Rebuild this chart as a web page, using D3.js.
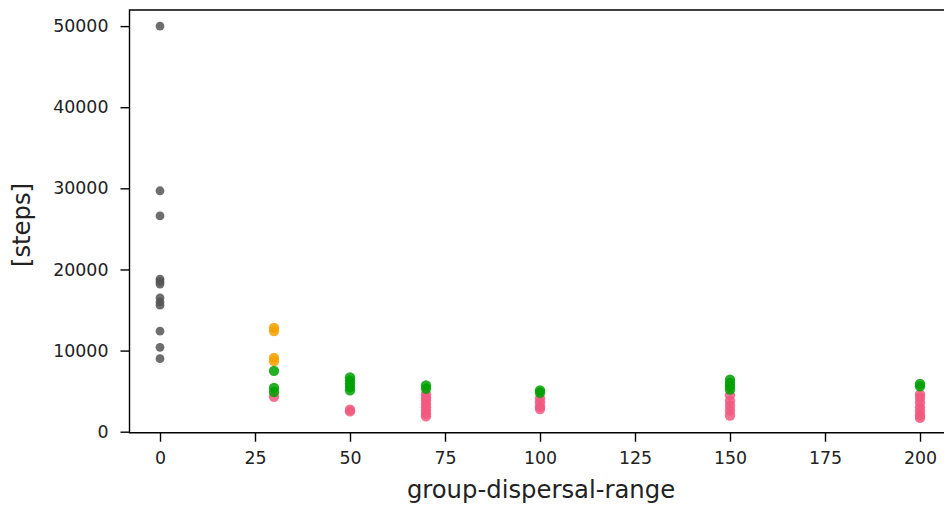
<!DOCTYPE html>
<html>
<head>
<meta charset="utf-8">
<script src="https://cdn.jsdelivr.net/npm/d3@7"></script>
<style>
  body { margin: 0; background: #fff; }
  svg text { font-family: "DejaVu Sans", sans-serif; }
</style>
</head>
<body>
<div id="chart"></div>
<script>
// Data: steps per run for each group-dispersal-range
var gray_x    = 0;
var gray_y    = [50000, 29700, 26600, 18800, 18500, 18200, 16500, 16000, 15600, 12400, 10400, 9000];

var orange_x  = [30, 30, 30, 30];
var orange_y  = [12800, 12400, 9100, 8700];

var green_x   = [30, 30, 30, 50, 50, 50, 50, 50, 70, 70, 100, 100, 150, 150, 150, 150, 200, 200];
var green_y   = [7500, 5400, 4900, 6700, 6300, 5900, 5500, 5100, 5700, 5300, 5100, 4800, 6400, 6000, 5600, 5200, 5900, 5600];

var pink_x    = [30, 50, 50,
                 70, 70, 70, 70, 70, 70, 70, 70,
                 100, 100, 100, 100,
                 150, 150, 150, 150, 150,
                 200, 200, 200, 200, 200, 200, 200];
var pink_y    = [4300, 2700, 2500,
                 4600, 4200, 3800, 3400, 3000, 2600, 2200, 1900,
                 4100, 3600, 3100, 2800,
                 4500, 3800, 3200, 2600, 2000,
                 4600, 4200, 3600, 3000, 2500, 2000, 1700];

var x_ticks   = [0, 25, 50, 75, 100, 125, 150, 175, 200];
var y_ticks   = [0, 10000, 20000, 30000, 40000, 50000];

var chart_width  = 944;
var chart_height = 508;
var margin = { top: 10, left: 129.5, bottom: 75.3 };

var x_scale = d3.scaleLinear()
    .domain([0, 200])
    .range([160, 920]);

var y_scale = d3.scaleLinear()
    .domain([0, 50000])
    .range([431.7, 26.1]);

var svg = d3.select("#chart")
    .append("svg")
    .attr("width", chart_width)
    .attr("height", chart_height);

var plot_bottom = chart_height - margin.bottom;

// Points (drawn first so the frame sits on top)
function draw_points(xs, ys, color, r) {
    svg.append("g")
        .selectAll("circle")
        .data(ys)
        .enter()
        .append("circle")
        .attr("cx", function(d, i) { return x_scale(Array.isArray(xs) ? xs[i] : xs); })
        .attr("cy", function(d) { return y_scale(d); })
        .attr("r", r)
        .style("fill", color)
        .style("opacity", 0.85);
}

draw_points(gray_x, gray_y, "#555555", 4.4);
draw_points(pink_x, pink_y, "#f2587f", 5.2);
draw_points(orange_x, orange_y, "#f5a000", 5.2);
draw_points(green_x, green_y, "#00a000", 5.2);

// Axes
var x_axis = d3.axisBottom(x_scale)
    .tickValues(x_ticks)
    .tickSize(9)
    .tickPadding(10)
    .tickSizeOuter(0)
    .tickFormat(d3.format("d"));

var y_axis = d3.axisLeft(y_scale)
    .tickValues(y_ticks)
    .tickSize(9)
    .tickPadding(12)
    .tickSizeOuter(0)
    .tickFormat(d3.format("d"));

var gx = svg.append("g")
    .attr("transform", "translate(0," + plot_bottom + ")")
    .call(x_axis);

var gy = svg.append("g")
    .attr("transform", "translate(" + margin.left + ",0)")
    .call(y_axis);

[gx, gy].forEach(function(g) {
    g.select(".domain").remove();
    g.selectAll("line").style("stroke", "#000").style("stroke-width", 1.4);
    g.selectAll("text")
        .style("font-size", "17.4px")
        .style("font-family", "'DejaVu Sans', sans-serif")
        .style("fill", "#222");
});

// Frame
svg.append("path")
    .attr("d", "M" + chart_width + "," + margin.top +
               "H" + margin.left +
               "V" + plot_bottom +
               "H" + chart_width)
    .style("fill", "none")
    .style("stroke", "#000")
    .style("stroke-width", 1.4);

// Labels
svg.append("text")
    .attr("x", 541)
    .attr("y", 498)
    .style("text-anchor", "middle")
    .style("font-size", "24.3px")
    .style("fill", "#222")
    .text("group-dispersal-range");

svg.append("text")
    .attr("transform", "translate(30,225) rotate(-90)")
    .style("text-anchor", "middle")
    .style("font-size", "24.3px")
    .style("fill", "#222")
    .text("[steps]");
</script>
</body>
</html>
